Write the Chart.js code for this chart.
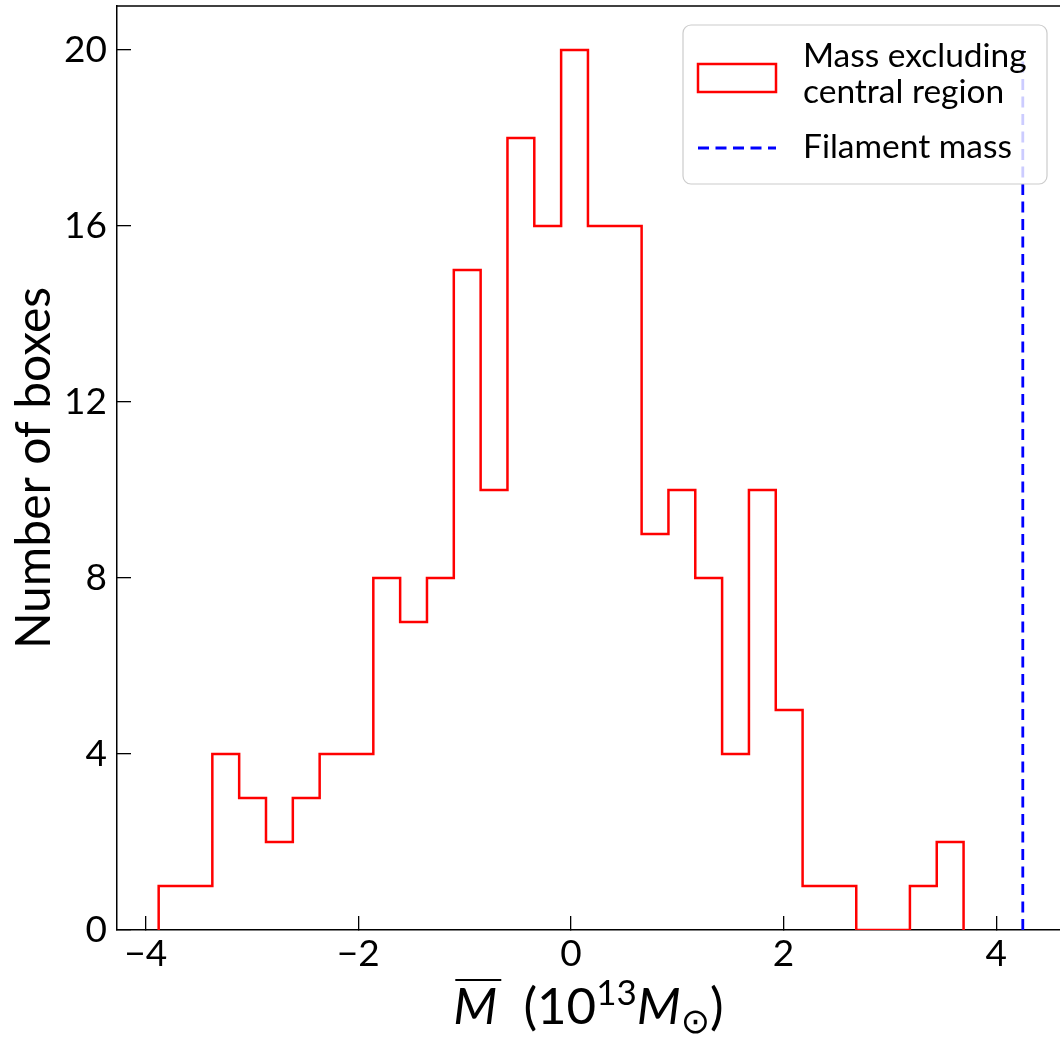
<!DOCTYPE html>
<html>
<head>
<meta charset="utf-8">
<script src="https://cdn.jsdelivr.net/npm/chart.js@4.4.1/dist/chart.umd.min.js"></script>
<style>
html, body { margin: 0; padding: 0; background: #fff; overflow: hidden; }
#wrap { width: 1060px; height: 1042px; position: relative; }
</style>
</head>
<body>
<div id="wrap"><canvas id="histChart"></canvas></div>
<script>
// histogram bins (30 equal bins between binStart and binEnd)
const binStart = -3.878;
const binEnd = 3.693;
const binCounts = [1, 1, 4, 3, 2, 3, 4, 4, 8, 7, 8, 15, 10, 18, 16, 20, 16, 16, 9, 10, 8, 4, 10, 5, 1, 1, 0, 0, 1, 2];
const filamentMass = 4.25;
const filamentSpan = [0, 20];

const xTicks = [-4, -2, 0, 2, 4];
const yTicks = [0, 4, 8, 12, 16, 20];
const xRange = [-4.27, 4.6];
const yRange = [0, 21];

const labelMass = ["Mass excluding", "central region"];
const labelFilament = "Filament mass";
const yTitle = "Number of boxes";

const FONT = "Lato, 'DejaVu Sans', sans-serif";

let binWidth = (binEnd - binStart) / binCounts.length;
let stepPoints = [{ x: binStart, y: 0 }];
binCounts.forEach((c, i) => stepPoints.push({ x: binStart + i * binWidth, y: c }));
stepPoints.push({ x: binEnd, y: 0 });

let filamentLine = filamentSpan.map(v => ({ x: filamentMass, y: v }));

// top spine, legend and the x-axis title (with overline / super / subscripts)
const extras = {
    id: "extras",
    afterDraw(chart) {
        const ctx = chart.ctx;
        const area = chart.chartArea;
        ctx.save();

        // top spine
        ctx.strokeStyle = "#000";
        ctx.lineWidth = 1.5;
        ctx.beginPath();
        ctx.moveTo(area.left, area.top);
        ctx.lineTo(area.right, area.top);
        ctx.stroke();

        // legend
        let lx = 683, ly = 25, lw = 364, lh = 159;
        ctx.beginPath();
        ctx.roundRect(lx, ly, lw, lh, 8);
        ctx.fillStyle = "rgba(255,255,255,0.8)";
        ctx.fill();
        ctx.strokeStyle = "#cccccc";
        ctx.lineWidth = 1.2;
        ctx.stroke();

        ctx.strokeStyle = "red";
        ctx.lineWidth = 2.5;
        ctx.strokeRect(698, 64, 78, 28);

        ctx.strokeStyle = "blue";
        ctx.lineWidth = 2.8;
        ctx.setLineDash([11, 6.5]);
        ctx.beginPath();
        ctx.moveTo(698, 148);
        ctx.lineTo(776, 148);
        ctx.stroke();
        ctx.setLineDash([]);

        ctx.fillStyle = "#000";
        ctx.font = "33.5px " + FONT;
        ctx.textAlign = "left";
        ctx.textBaseline = "alphabetic";
        ctx.fillText(labelMass[0], 803, 67);
        ctx.fillText(labelMass[1], 803, 103);
        ctx.fillText(labelFilament, 803, 158);

        // x-axis title: M-bar (10^13 M_sun)
        let base = 1024;
        let big = "51px " + FONT;
        let bigIt = "italic 51px " + FONT;
        let small = "35px " + FONT;
        let parts = [
            { t: "M", f: bigIt, dy: 0, bar: true },
            { t: "  (10", f: big, dy: 0 },
            { t: "13", f: small, dy: -19 },
            { t: "M", f: bigIt, dy: 0 },
            { t: "\u2299", f: small, dy: 9 },
            { t: ")", f: big, dy: 0 }
        ];
        let total = 0;
        parts.forEach(p => { ctx.font = p.f; p.w = ctx.measureText(p.t).width; total += p.w; });
        let x = (area.left + area.right) / 2 - total / 2;
        parts.forEach(p => {
            ctx.font = p.f;
            ctx.fillText(p.t, x, base + p.dy);
            if (p.bar) {
                ctx.lineWidth = 2;
                ctx.strokeStyle = "#000";
                ctx.beginPath();
                ctx.moveTo(x + 2, base - 44);
                ctx.lineTo(x + p.w + 4, base - 44);
                ctx.stroke();
            }
            x += p.w;
        });

        ctx.restore();
    }
};

let ctx = document.getElementById("histChart").getContext("2d");
new Chart(ctx, {
    type: "line",
    data: {
        datasets: [{
            label: labelMass.join(" "),
            data: stepPoints,
            stepped: true,
            borderColor: "red",
            borderWidth: 2.5,
            pointRadius: 0,
            fill: false
        }, {
            label: labelFilament,
            data: filamentLine,
            borderColor: "blue",
            borderWidth: 2.8,
            borderDash: [11, 6.5],
            pointRadius: 0,
            fill: false
        }]
    },
    options: {
        responsive: true,
        maintainAspectRatio: false,
        animation: false,
        layout: { padding: { top: 6, right: 0, left: 0, bottom: 0 } },
        plugins: {
            legend: { display: false },
            tooltip: { enabled: false }
        },
        scales: {
            x: {
                type: "linear",
                min: xRange[0],
                max: xRange[1],
                afterBuildTicks: scale => { scale.ticks = xTicks.map(v => ({ value: v })); },
                afterFit: scale => {
                    scale.height = 112;
                    scale.paddingLeft = 0;
                    scale.paddingRight = 0;
                },
                ticks: {
                    font: { family: FONT, size: 37 },
                    color: "#000",
                    padding: 16,
                    maxRotation: 0,
                    autoSkip: false,
                    callback: v => String(v).replace("-", "\u2212")
                },
                grid: { drawOnChartArea: false, drawTicks: true, tickLength: -14, color: "#000", lineWidth: 1.3 },
                border: { display: true, color: "#000", width: 1.5 }
            },
            y: {
                min: yRange[0],
                max: yRange[1],
                afterBuildTicks: scale => { scale.ticks = yTicks.map(v => ({ value: v })); },
                afterFit: scale => {
                    scale.width = 117;
                    scale.paddingTop = 0;
                    scale.paddingBottom = 0;
                },
                ticks: {
                    font: { family: FONT, size: 37 },
                    color: "#000",
                    padding: 24,
                    autoSkip: false
                },
                grid: { drawOnChartArea: false, drawTicks: true, tickLength: -14, color: "#000", lineWidth: 1.3 },
                border: { display: true, color: "#000", width: 1.5 },
                title: {
                    display: true,
                    text: yTitle,
                    color: "#000",
                    font: { family: FONT, size: 48 },
                    padding: { top: 6, bottom: 0 }
                }
            }
        }
    },
    plugins: [extras]
});
</script>
</body>
</html>
